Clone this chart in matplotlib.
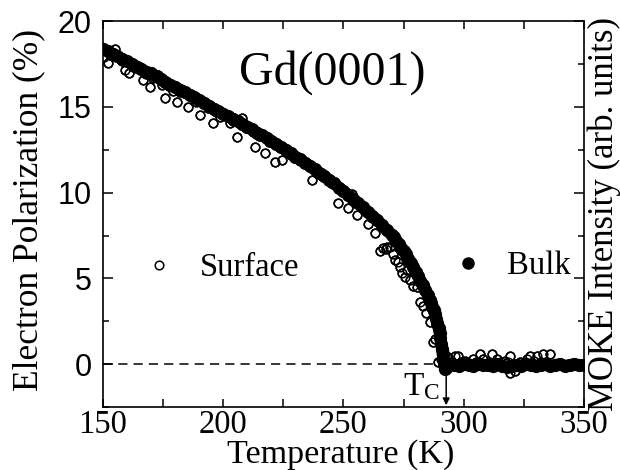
import matplotlib
matplotlib.use("Agg")
import matplotlib.pyplot as plt
from matplotlib.lines import Line2D

plt.rcParams['mathtext.fontset'] = 'custom'
plt.rcParams['mathtext.rm'] = 'Liberation Serif'

# Bulk (MOKE) data
bulk_T = [150, 152, 154, 156, 158, 160, 162, 164, 166, 168, 170, 172, 174, 176, 178,
          180, 182, 184, 186, 188, 190, 192, 194, 196, 198, 200, 202, 204, 206, 208,
          210, 212, 214, 216, 218, 220, 222, 224, 226, 228, 230, 232, 234, 236, 238,
          240, 242, 244, 246, 248, 250, 252, 254, 256, 258, 260, 262, 264, 266, 268,
          270, 271, 272, 273, 274, 275, 276, 277, 278, 279, 280, 281, 282, 283, 284,
          285, 286, 286.5, 287, 287.5, 288, 288.5, 289, 289.5, 290, 290.3, 290.6, 290.9,
          291.2, 291.5, 291.8, 292.1, 292.4, 292.8, 293.2, 294, 295, 296, 298, 300, 302,
          304, 306, 308, 310, 312, 314, 316, 318, 320, 322, 324, 326, 328, 330, 332,
          334, 336, 338, 340, 342, 344, 346, 348, 350]
bulk_P = [18.4, 18.25, 18.1, 17.95, 17.8, 17.65, 17.5, 17.35, 17.2, 17.05, 16.95, 16.8,
          16.6, 16.45, 16.3, 16.15, 16.0, 15.85, 15.7, 15.55, 15.4, 15.25, 15.05, 14.9,
          14.75, 14.6, 14.45, 14.3, 14.15, 14.0, 13.85, 13.7, 13.5, 13.35, 13.2, 13.0,
          12.85, 12.65, 12.5, 12.3, 12.1, 11.95, 11.75, 11.55, 11.35, 11.15, 10.95, 10.75,
          10.55, 10.3, 10.1, 9.85, 9.65, 9.4, 9.15, 8.9, 8.65, 8.4, 8.1, 7.8,
          7.55, 7.4, 7.2, 7.0, 6.8, 6.6, 6.4, 6.15, 5.9, 5.65, 5.4, 5.15, 4.85, 4.6, 4.3,
          4.05, 3.75, 3.55, 3.35, 3.15, 2.9, 2.65, 2.4, 2.1, 1.8, 1.5, 1.2, 0.9,
          0.6, 0.3, 0.05, -0.2, -0.3, -0.25, -0.1, -0.05, 0.0, -0.05, -0.1, 0.0, -0.05,
          -0.1, 0.0, -0.05, -0.05, -0.1, 0.0, -0.1, -0.15, -0.1, -0.05, -0.1, 0.0, -0.05,
          -0.1, -0.05, 0.0, -0.1, -0.05, 0.0, -0.1, -0.05, 0.0, -0.05, -0.05]

# Surface (SPLEED) data
surf_T = [150.5, 152, 153, 155, 156.5, 158, 159, 161, 162.5, 165.4, 166.6, 168, 169.5,
          171, 173, 174.5, 175.8, 177.5, 179, 180.8, 182, 183.3, 185.3, 187, 188.5,
          190.3, 191.6, 193.5, 195.7, 197, 198.6, 200.5, 202.8, 204, 205.7, 207.8,
          209.5, 211, 212.4, 213.2, 215, 217.4, 219, 221.5, 223, 224.4, 226, 228,
          230, 232, 234.8, 236.9, 238.5, 241, 243, 245, 247.7, 249.5, 251.9, 253.5,
          255.6, 257, 259, 260.2, 262, 263.1, 265, 266.4, 267.5, 268, 269.3, 270.5,
          271.4, 272.5, 273.5, 274.5, 275.6, 276.4, 277.5, 278.9, 280.6, 281.8, 283,
          284.5, 286, 287.2, 288, 289.3, 290.5, 291.5, 293.5, 295, 296.4, 297.6, 299,
          300.5, 302, 303.8, 305, 306.8, 308, 309.5, 311.7, 313.8, 315.5, 317, 318.4,
          319.2, 319.2, 321.3, 323.4, 325, 326.3, 327.5, 329, 330.4, 332, 333, 334.5,
          335.9]
surf_P = [17.9, 17.55, 18.0, 18.4, 17.85, 17.7, 17.15, 16.95, 17.35, 17.3, 16.55, 16.9,
          16.15, 16.7, 16.85, 16.3, 15.5, 16.2, 15.95, 15.3, 15.85, 16.0, 15.0, 15.6,
          15.3, 14.5, 15.2, 14.95, 14.05, 14.7, 14.4, 14.5, 14.05, 14.2, 13.25, 14.35,
          13.75, 13.7, 13.55, 12.65, 13.3, 12.3, 12.95, 11.8, 12.65, 11.9, 12.45, 12.2,
          12.0, 11.85, 11.75, 10.75, 11.3, 11.15, 10.85, 10.55, 9.4, 10.1, 9.1, 9.9,
          8.7, 9.3, 9.0, 8.15, 8.55, 7.65, 6.6, 6.8, 6.7, 6.85, 6.85, 6.4,
          6.1, 5.95, 5.65, 5.3, 5.1, 5.5, 4.9, 4.55, 4.5, 3.65, 3.4,
          3.0, 2.45, 1.3, 1.45, 0.1, 0.3, 0.05, 0.4, 0.15, 0.45, 0.45, 0.1,
          0.2, 0.05, 0.3, 0.15, 0.6, 0.3, 0.05, 0.6, 0.3, 0.1, 0.2, 0.15,
          0.45, -0.5, -0.4, 0.15, 0.05, 0.3, 0.45, 0.2, 0.45, 0.1, 0.6, 0.05,
          0.6]

x_ticks = [150, 200, 250, 300, 350]
y_ticks = [0, 5, 10, 15, 20]
Tc = 292.7

fig = plt.figure(figsize=(6.2, 4.7), dpi=100)
ax = fig.add_axes([0.166, 0.134, 0.776, 0.821])

serif = 'Liberation Serif'
sans = 'Liberation Sans'

# zero line
ax.plot([150, 291.5], [0, 0], color='black', lw=1.1, ls=(0, (6, 4)), zorder=1)

ax.plot(surf_T, surf_P, ls='none', marker='o', ms=6.2, mfc='white', mec='black',
        mew=1.1, zorder=2)
ax.plot(bulk_T, bulk_P, color='black', lw=8.5, marker='o', ms=8.5, mfc='black',
        mec='black', zorder=3, solid_capstyle='round', solid_joinstyle='round')
# surface circles drawn on top so outlines remain visible at edges
ax.plot(surf_T, surf_P, ls='none', marker='o', ms=6.2, mfc='none', mec='black',
        mew=1.1, zorder=4)

ax.set_xlim(150, 350)
ax.set_ylim(-2.45, 20)
ax.set_xticks(x_ticks)
ax.set_xticks([175, 225, 275, 325], minor=True)
ax.set_yticks(y_ticks)
ax.set_yticks([-2.5, 2.5, 7.5, 12.5, 17.5], minor=True)
ax.set_xticklabels([str(v) for v in x_ticks], fontfamily=serif, fontsize=23.5)
ax.set_yticklabels([str(v) for v in y_ticks], fontfamily=sans, fontsize=22)

ax.tick_params(axis='x', which='both', direction='in', top=True, bottom=True,
               length=6, width=1.1, pad=2)
ax.tick_params(axis='y', which='major', direction='in', left=True, right=True,
               length=7, width=1.1, pad=8)
ax.tick_params(axis='y', which='minor', direction='in', left=True, right=True,
               length=4.5, width=1.1)
for s in ax.spines.values():
    s.set_linewidth(1.2)

ax.set_xlabel('Temperature (K)', fontfamily=serif, fontsize=24.5, va='center')
ax.xaxis.set_label_coords(0.495, -0.124)
ax.set_ylabel('Electron Polarization (%)', fontfamily=serif, fontsize=25.5,
              va='center')
ax.yaxis.set_label_coords(-0.154, 0.51)
fig.text(0.974, 0.545, 'MOKE Intensity (arb. units)', rotation=90, ha='center',
         va='center', fontfamily=serif, fontsize=25)

ax.text(245.5, 17.0, 'Gd(0001)', ha='center', va='center', fontfamily=serif,
        fontsize=34.5)

# legends
h_s = Line2D([], [], ls='none', marker='o', ms=6.2, mfc='white', mec='black', mew=1.1)
h_b = Line2D([], [], ls='none', marker='o', ms=8, mfc='black', mec='black')
leg1 = ax.legend([h_s], ['Surface'], loc='center left', bbox_to_anchor=(0.07, 0.36),
                 frameon=False, prop={'family': serif, 'size': 23.5}, handlelength=0.6,
                 handletextpad=0.95, borderaxespad=0)
ax.add_artist(leg1)
ax.legend([h_b], ['Bulk'], loc='center left', bbox_to_anchor=(0.712, 0.365),
          frameon=False, prop={'family': serif, 'size': 23.5}, handlelength=0.6,
          handletextpad=0.9, borderaxespad=0)

# Tc marker
ax.annotate('', xy=(Tc, -2.4), xytext=(Tc, -0.45),
            arrowprops=dict(arrowstyle='-|>', color='black', lw=1.1,
                            mutation_scale=10, shrinkA=0, shrinkB=0))
ax.text(Tc - 2.5, -1.35, r'$\mathregular{T_C}$', ha='right', va='center',
        fontfamily=serif, fontsize=24)

fig.savefig('out.png', dpi=100)
